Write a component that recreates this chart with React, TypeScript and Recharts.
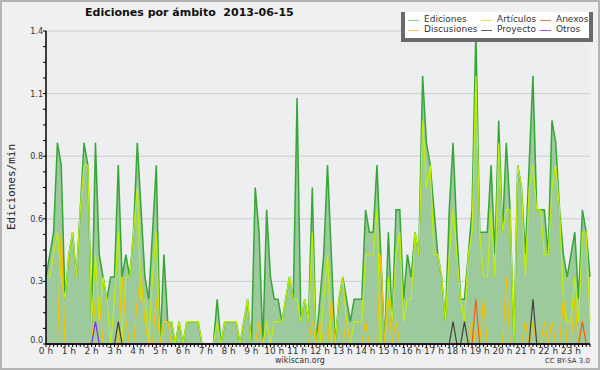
import React from 'react';
import { ComposedChart, Area, Line, XAxis, YAxis, CartesianGrid } from 'recharts';

// 10-minute slots of the day (index 0 = 00:00 ... 143 = 23:50)
const slots = [
  0, 1, 2, 3, 4, 5, 6, 7, 8, 9, 10, 11, 12, 13, 14, 15, 16, 17, 18, 19, 20, 21, 22, 23,
  24, 25, 26, 27, 28, 29, 30, 31, 32, 33, 34, 35, 36, 37, 38, 39, 40, 41, 42, 43, 44, 45, 46, 47,
  48, 49, 50, 51, 52, 53, 54, 55, 56, 57, 58, 59, 60, 61, 62, 63, 64, 65, 66, 67, 68, 69, 70, 71,
  72, 73, 74, 75, 76, 77, 78, 79, 80, 81, 82, 83, 84, 85, 86, 87, 88, 89, 90, 91, 92, 93, 94, 95,
  96, 97, 98, 99, 100, 101, 102, 103, 104, 105, 106, 107, 108, 109, 110, 111, 112, 113, 114, 115, 116, 117, 118, 119,
  120, 121, 122, 123, 124, 125, 126, 127, 128, 129, 130, 131, 132, 133, 134, 135, 136, 137, 138, 139, 140, 141, 142, 143,
];

const hourTicks = [0, 6, 12, 18, 24, 30, 36, 42, 48, 54, 60, 66, 72, 78, 84, 90, 96, 102, 108, 114, 120, 126, 132, 138];
const hourLabels = ['0 h', '1 h', '2 h', '3 h', '4 h', '5 h', '6 h', '7 h', '8 h', '9 h', '10 h', '11 h',
  '12 h', '13 h', '14 h', '15 h', '16 h', '17 h', '18 h', '19 h', '20 h', '21 h', '22 h', '23 h'];

const yTicks = [0, 0.07, 0.14, 0.21, 0.28, 0.35, 0.42, 0.49, 0.56, 0.63, 0.7, 0.77, 0.84, 0.91, 0.98, 1.05, 1.12, 1.19, 1.26, 1.33, 1.4];
const yMajor = [0, 0.28, 0.56, 0.84, 1.12, 1.4];
const yMajorLabels = ['0.0', '0.3', '0.6', '0.8', '1.1', '1.4'];

const ediciones = [
  0.3, 0.4, 0.5, 0.9, 0.8, 0.2, 0.4, 0.5, 0.3, 0.6, 0.9, 0.8,
  0.1, 0.9, 0.4, 0.3, 0.2, 0.3, 0.3, 0.8, 0.3, 0.4, 0.3, 0.5,
  0.9, 0.6, 0.3, 0.2, 0.5, 0.8, 0, 0.4, 0.1, 0.1, 0, 0.1,
  0, 0.1, 0.1, 0.1, 0.1, 0, 0, 0, 0, 0.2, 0, 0.1,
  0.1, 0.1, 0.1, 0, 0.1, 0.2, 0, 0.7, 0.5, 0, 0.6, 0.3,
  0.2, 0.2, 0.1, 0.2, 0.3, 0.2, 1.1, 0.1, 0.2, 0.1, 0.7, 0,
  0.2, 0.4, 0.8, 0.4, 0, 0.2, 0.3, 0.2, 0.1, 0.2, 0.2, 0.2,
  0.6, 0.5, 0.5, 0.8, 0.4, 0, 0.5, 0.1, 0.6, 0.6, 0.2, 0.4,
  0.3, 0.5, 0.4, 1.2, 0.9, 0.8, 0.6, 0.4, 0.3, 0.1, 0.6, 0.9,
  0.5, 0.2, 0.2, 0.4, 0.6, 1.4, 0.5, 0.5, 0.5, 0.8, 0.4, 1.0,
  0.5, 0.9, 0.6, 0, 0.8, 0.7, 0.4, 0.8, 1.2, 0.6, 0.6, 0.6,
  0.4, 1.0, 0.9, 0.6, 0.4, 0.3, 0.4, 0.5, 0.2, 0.6, 0.5, 0.3,
];

const articulos = [
  0.3, 0.3, 0.4, 0.5, 0.3, 0.2, 0.4, 0.5, 0.3, 0.6, 0.8, 0.8,
  0.1, 0.4, 0.1, 0.3, 0.2, 0, 0.2, 0.5, 0, 0.3, 0.3, 0.5,
  0.7, 0.2, 0.2, 0, 0.3, 0.5, 0, 0.1, 0.1, 0.1, 0, 0.1,
  0, 0.1, 0.1, 0.1, 0.1, 0, 0, 0, 0, 0.1, 0, 0.1,
  0.1, 0.1, 0.1, 0, 0.1, 0.2, 0, 0, 0, 0, 0.1, 0,
  0.1, 0.1, 0.1, 0.2, 0.3, 0.2, 0.2, 0.1, 0.2, 0.1, 0.5, 0,
  0, 0.2, 0.4, 0, 0, 0.2, 0.3, 0.1, 0, 0.1, 0.1, 0.1,
  0.4, 0.4, 0.4, 0.6, 0, 0, 0.3, 0.1, 0.4, 0.5, 0.1, 0.2,
  0.2, 0.5, 0.4, 1.0, 0.7, 0.8, 0.4, 0.4, 0.3, 0.1, 0.4, 0.6,
  0.4, 0.2, 0.1, 0.4, 0.5, 1.2, 0.5, 0.3, 0.3, 0.6, 0.3, 0.9,
  0.5, 0.6, 0.6, 0, 0.8, 0.7, 0.3, 0.7, 0.8, 0.6, 0.6, 0.4,
  0.4, 0.7, 0.8, 0.6, 0.2, 0.1, 0.1, 0.3, 0.1, 0.5, 0.5, 0.1,
];

const discusiones = [
  0, 0, 0, 0, 0.5, 0, 0, 0, 0, 0, 0, 0,
  0, 0.2, 0.2, 0, 0, 0, 0, 0, 0.3, 0.1, 0, 0,
  0.2, 0.3, 0.1, 0, 0, 0.2, 0, 0.1, 0.1, 0, 0, 0,
  0, 0, 0, 0, 0, 0, 0, 0, 0, 0, 0, 0,
  0, 0, 0, 0, 0, 0, 0, 0, 0.1, 0, 0, 0,
  0, 0, 0, 0, 0, 0, 0, 0, 0, 0, 0.1, 0,
  0.1, 0, 0, 0.2, 0, 0, 0, 0.1, 0, 0, 0, 0,
  0.1, 0, 0, 0, 0.4, 0, 0.2, 0, 0.1, 0, 0, 0,
  0, 0, 0, 0, 0, 0, 0, 0, 0, 0, 0, 0,
  0, 0, 0, 0, 0.1, 0, 0, 0.2, 0, 0, 0, 0,
  0, 0.3, 0, 0, 0, 0, 0.1, 0, 0.1, 0, 0, 0.1,
  0, 0.1, 0, 0, 0.2, 0, 0, 0.2, 0, 0, 0, 0,
];

const anexos = [
  0, 0, 0, 0, 0, 0, 0, 0, 0, 0, 0, 0,
  0, 0, 0, 0, 0, 0, 0, 0, 0, 0, 0, 0,
  0, 0, 0, 0, 0, 0, 0, 0, 0, 0, 0, 0,
  0, 0, 0, 0, 0, 0, 0, 0, 0, 0, 0, 0,
  0, 0, 0, 0, 0, 0, 0, 0, 0, 0, 0, 0,
  0, 0, 0, 0, 0, 0, 0, 0, 0, 0, 0, 0,
  0, 0, 0, 0, 0, 0, 0, 0, 0, 0, 0, 0,
  0, 0, 0, 0, 0, 0, 0, 0, 0, 0, 0, 0,
  0, 0, 0, 0, 0, 0, 0, 0, 0, 0, 0, 0,
  0, 0, 0, 0, 0, 0.2, 0, 0, 0, 0, 0, 0,
  0, 0, 0, 0, 0, 0, 0, 0, 0, 0, 0, 0,
  0, 0, 0, 0, 0, 0, 0, 0, 0, 0.1, 0, 0,
];

const proyecto = [
  0, 0, 0, 0, 0, 0, 0, 0, 0, 0, 0, 0,
  0, 0, 0, 0, 0, 0, 0, 0.1, 0, 0, 0, 0,
  0, 0, 0, 0, 0, 0, 0, 0, 0, 0, 0, 0,
  0, 0, 0, 0, 0, 0, 0, 0, 0, 0, 0, 0,
  0, 0, 0, 0, 0, 0, 0, 0, 0, 0, 0, 0,
  0, 0, 0, 0, 0, 0, 0, 0, 0, 0, 0, 0,
  0, 0, 0, 0, 0, 0, 0, 0, 0, 0, 0, 0,
  0, 0, 0, 0, 0, 0, 0, 0, 0, 0, 0, 0,
  0, 0, 0, 0, 0, 0, 0, 0, 0, 0, 0, 0.1,
  0, 0, 0.1, 0, 0, 0, 0, 0, 0, 0, 0, 0,
  0, 0, 0, 0, 0, 0, 0, 0, 0.2, 0, 0, 0,
  0, 0, 0, 0, 0, 0, 0, 0, 0, 0, 0, 0,
];

const otros = [
  0, 0, 0, 0, 0, 0, 0, 0, 0, 0, 0, 0,
  0, 0.1, 0, 0, 0, 0, 0, 0, 0, 0, 0, 0,
  0, 0, 0, 0, 0, 0, 0, 0, 0, 0, 0, 0,
  0, 0, 0, 0, 0, 0, 0, 0, 0, 0, 0, 0,
  0, 0, 0, 0, 0, 0, 0, 0, 0, 0, 0, 0,
  0, 0, 0, 0, 0, 0, 0, 0, 0, 0, 0, 0,
  0, 0, 0, 0, 0, 0, 0, 0, 0, 0, 0, 0,
  0, 0, 0, 0, 0, 0, 0, 0, 0, 0, 0, 0,
  0, 0, 0, 0, 0, 0, 0, 0, 0, 0, 0, 0,
  0, 0, 0, 0, 0, 0, 0, 0, 0, 0, 0, 0,
  0, 0, 0, 0, 0, 0, 0, 0, 0, 0, 0, 0,
  0, 0, 0, 0, 0, 0, 0, 0, 0, 0, 0, 0,
];

const data = slots.map((t, i) => ({
  t,
  ediciones: ediciones[i],
  articulos: articulos[i],
  discusiones: discusiones[i],
  anexos: anexos[i],
  proyecto: proyecto[i],
  otros: otros[i],
}));

const legendItems = [
  { name: 'Ediciones', color: '#8fd08f', col: 0, row: 0 },
  { name: 'Artículos', color: '#d6f06a', col: 1, row: 0 },
  { name: 'Anexos', color: '#f08050', col: 2, row: 0 },
  { name: 'Discusiones', color: '#f6d050', col: 0, row: 1 },
  { name: 'Proyecto', color: '#606060', col: 1, row: 1 },
  { name: 'Otros', color: '#9955ee', col: 2, row: 1 },
];

const FONT = '"DejaVu Sans", sans-serif';

const XTick = (props: any) => {
  const { x, y, payload } = props;
  const idx = hourTicks.indexOf(payload.value);
  return (
    <g>
      <line x1={x} x2={x} y1={y} y2={y + 3} stroke="#000" strokeWidth={1} />
      {idx >= 0 && (
        <text x={x} y={y + 10} textAnchor="middle" fontSize={9} fill="#333" fontFamily={FONT}>
          {hourLabels[idx]}
        </text>
      )}
    </g>
  );
};

const YTick = (props: any) => {
  const { x, y, payload } = props;
  let idx = -1;
  yMajor.forEach((m, k) => { if (Math.abs(m - payload.value) < 1e-6) idx = k; });
  return (
    <g>
      <line x1={x - 3} x2={x} y1={y} y2={y} stroke="#000" strokeWidth={1} />
      {idx >= 0 && (
        <text x={x - 3} y={idx === 0 ? y - 1 : y + 3} textAnchor="end" fontSize={8} fill="#333" fontFamily={FONT}>
          {yMajorLabels[idx]}
        </text>
      )}
    </g>
  );
};

const LegendBox = () => (
  <div style={{ position: 'absolute', left: 405, top: 12, width: 188, height: 30 }}>
    <div style={{ position: 'absolute', left: -4, top: 0, width: 192, height: 30, background: '#6a6a6a' }} />
    <div style={{ position: 'absolute', left: 0, top: 0, width: 184, height: 26, background: '#ffffff' }} />
    {legendItems.map((it) => {
      const left = [3, 76, 135][it.col];
      const textLeft = [19, 92, 151][it.col];
      const top = it.row * 10;
      return (
        <React.Fragment key={it.name}>
          <div style={{ position: 'absolute', left, top: top + 8, width: 11, height: 1, background: it.color }} />
          <div style={{ position: 'absolute', left: textLeft, top: top + 1, fontSize: 9, lineHeight: '12px', fontFamily: FONT, color: '#333', whiteSpace: 'nowrap' }}>
            {it.name}
          </div>
        </React.Fragment>
      );
    })}
  </div>
);

export default function App() {
  return (
    <div style={{ position: 'absolute', left: 0, top: 0, width: 600, height: 370, background: '#f0f0f0' }}>
      <div style={{ position: 'absolute', left: 85, top: 6, fontFamily: FONT, fontWeight: 'bold', fontSize: 11, lineHeight: '14px', color: '#111', whiteSpace: 'pre' }}>
        {'Ediciones por ámbito  2013-06-15'}
      </div>
      <ComposedChart
        width={600}
        height={370}
        data={data}
        margin={{ top: 31, right: 10, bottom: 0, left: 0 }}
        style={{ position: 'absolute', left: 0, top: 0 }}
      >
        <CartesianGrid
          vertical={false}
          horizontalValues={yMajor.slice(1)}
          stroke="#cccccc"
          strokeWidth={1}
          fill="#eceef0"
          fillOpacity={1}
        />
        <Area
          type="linear"
          dataKey="ediciones"
          name="Ediciones"
          stroke="#36a636"
          strokeWidth={1.5}
          fill="#9dca9d"
          fillOpacity={1}
          dot={false}
          activeDot={false}
          isAnimationActive={false}
        />
        <Line type="linear" dataKey="articulos" name="Artículos" stroke="#bff000" strokeWidth={1.2} dot={false} activeDot={false} isAnimationActive={false} />
        <Line type="linear" dataKey="discusiones" name="Discusiones" stroke="#f2c200" strokeWidth={1.2} dot={false} activeDot={false} isAnimationActive={false} />
        <Line type="linear" dataKey="anexos" name="Anexos" stroke="#f06010" strokeWidth={1.2} dot={false} activeDot={false} isAnimationActive={false} />
        <Line type="linear" dataKey="proyecto" name="Proyecto" stroke="#404040" strokeWidth={1.2} dot={false} activeDot={false} isAnimationActive={false} />
        <Line type="linear" dataKey="otros" name="Otros" stroke="#7a30e0" strokeWidth={1.2} dot={false} activeDot={false} isAnimationActive={false} />
        <XAxis
          dataKey="t"
          type="number"
          domain={[0, 143]}
          ticks={slots}
          interval={0}
          tick={<XTick />}
          tickLine={false}
          tickSize={0}
          tickMargin={0}
          height={26}
          axisLine={{ stroke: '#000', strokeWidth: 1.5 }}
        />
        <YAxis
          type="number"
          domain={[0, 1.4]}
          ticks={yTicks}
          interval={0}
          tick={<YTick />}
          tickLine={false}
          tickSize={0}
          tickMargin={0}
          width={46}
          axisLine={{ stroke: '#000', strokeWidth: 1.5 }}
          label={{
            content: () => (
              <text transform="translate(15,187) rotate(-90)" textAnchor="middle" fontSize={11} fill="#222" fontFamily='"DejaVu Sans Mono", monospace'>
                Ediciones/min
              </text>
            ),
          }}
        />
      </ComposedChart>
      <LegendBox />
      <div style={{ position: 'absolute', left: 0, top: 356, width: 600, textAlign: 'center', fontFamily: FONT, fontSize: 8, lineHeight: '10px', color: '#333' }}>
        wikiscan.org
      </div>
      <div style={{ position: 'absolute', right: 10, top: 357, fontFamily: FONT, fontSize: 7, lineHeight: '9px', color: '#333' }}>
        CC BY-SA 3.0
      </div>
      <div style={{ position: 'absolute', left: 0, top: 0, width: 600, height: 370, boxSizing: 'border-box', border: '2px solid #b4b4b4', pointerEvents: 'none' }} />
    </div>
  );
}
